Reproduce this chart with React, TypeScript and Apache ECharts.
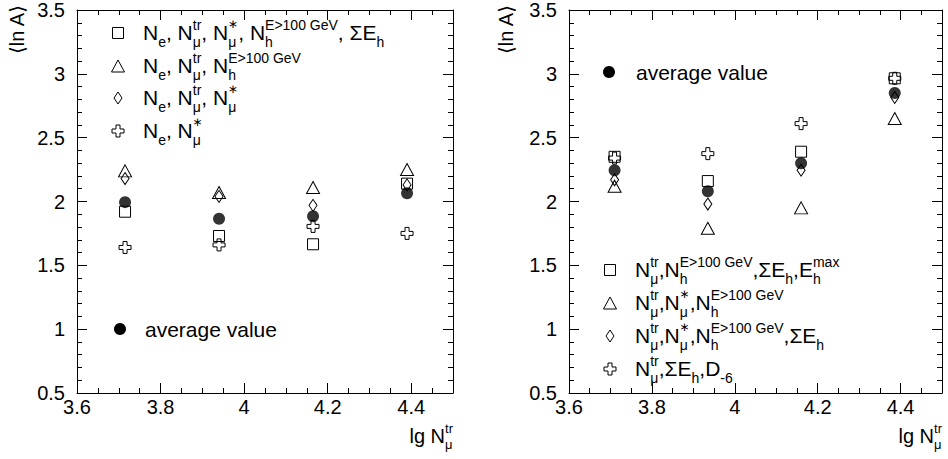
import React, { useEffect, useRef } from "react";
import * as echarts from "echarts";

// ---------- data ----------
const X_LEFT = [3.715, 3.94, 4.165, 4.39];
const X_RIGHT = [3.71, 3.935, 4.16, 4.386];

const L_SQUARE = [1.92, 1.73, 1.665, 2.14];
const L_TRIANGLE = [2.24, 2.07, 2.11, 2.25];
const L_DIAMOND = [2.18, 2.04, 1.97, 2.13];
const L_CROSS = [1.64, 1.66, 1.805, 1.75];
const L_AVG = [1.995, 1.865, 1.885, 2.065];

const R_SQUARE = [2.35, 2.16, 2.39, 2.965];
const R_TRIANGLE = [2.12, 1.79, 1.95, 2.65];
const R_DIAMOND = [2.17, 1.98, 2.245, 2.815];
const R_CROSS = [2.34, 2.375, 2.61, 2.965];
const R_AVG = [2.245, 2.08, 2.30, 2.85];

const X_MIN = 3.6;
const X_MAX = 4.5;
const Y_MIN = 0.5;
const Y_MAX = 3.5;

const LEFT_LEGEND = [
  "N_{e}, N_{μ}^{tr}, N_{μ}^{*}, N_{h}^{E>100 GeV}, ΣE_{h}",
  "N_{e}, N_{μ}^{tr}, N_{h}^{E>100 GeV}",
  "N_{e}, N_{μ}^{tr}, N_{μ}^{*}",
  "N_{e}, N_{μ}^{*}",
];
const RIGHT_LEGEND = [
  "N_{μ}^{tr},N_{h}^{E>100 GeV},ΣE_{h},E_{h}^{max}",
  "N_{μ}^{tr},N_{μ}^{*},N_{h}^{E>100 GeV}",
  "N_{μ}^{tr},N_{μ}^{*},N_{h}^{E>100 GeV},ΣE_{h}",
  "N_{μ}^{tr},ΣE_{h},D_{-6}",
];
const AVG_LABEL = "average value";
const X_TITLE = "lg N_{μ}^{tr}";
const Y_TITLE = "⟨ln A⟩";

// ---------- helpers ----------
const FONT = '"Liberation Sans", Arial, Helvetica, sans-serif';
const STAR_FONT = '"DejaVu Sans", sans-serif';
const CROSS_PATH = "path://M4,0H8V4H12V8H8V12H4V8H0V4H4Z";

let measureCtx: CanvasRenderingContext2D | null = null;
function measure(t: string, size: number, family: string = FONT): number {
  if (!measureCtx) measureCtx = document.createElement("canvas").getContext("2d");
  measureCtx!.font = `${size}px ${family}`;
  return measureCtx!.measureText(t).width;
}

type Piece = { kind: "base"; text: string } | { kind: "script"; sub?: string; sup?: string };

function parseTex(s: string): Piece[] {
  const out: Piece[] = [];
  let i = 0;
  let buf = "";
  const flush = () => {
    if (buf) {
      out.push({ kind: "base", text: buf });
      buf = "";
    }
  };
  const readArg = () => {
    if (s[i] === "{") {
      const j = s.indexOf("}", i);
      const a = s.slice(i + 1, j);
      i = j + 1;
      return a;
    }
    const c = s[i];
    i++;
    return c;
  };
  while (i < s.length) {
    const c = s[i];
    if (c === "_" || c === "^") {
      flush();
      i++;
      const arg = readArg();
      const last = out[out.length - 1] as any;
      let sc: any;
      if (last && last.kind === "script" && (c === "_" ? last.sub === undefined : last.sup === undefined)) sc = last;
      else {
        sc = { kind: "script" };
        out.push(sc);
      }
      if (c === "_") sc.sub = arg;
      else sc.sup = arg;
    } else {
      buf += c;
      i++;
    }
  }
  flush();
  return out;
}

function txtCenter(text: string, x: number, cy: number, size: number, family: string = FONT) {
  return {
    type: "text",
    x,
    y: cy,
    silent: true,
    style: {
      text,
      fontSize: size,
      fontFamily: family,
      fill: "#000",
      align: "left",
      verticalAlign: "middle",
      textAlign: "left",
      textVerticalAlign: "middle",
    },
  };
}

function txt(text: string, x: number, baseline: number, size: number) {
  return txtCenter(text, x, baseline - 0.35 * size, size);
}

function tex(s: string, x: number, baseline: number, F: number, align: "left" | "right" = "left") {
  const sz = Math.round(F * 0.67);
  const starSize = 12;
  const pieces = parseTex(s);
  const widths = pieces.map((p) => {
    if (p.kind === "base") return measure(p.text, F);
    const wSub = p.sub ? measure(p.sub, sz) : 0;
    const wSup = p.sup ? (p.sup === "*" ? measure("∗", starSize, STAR_FONT) : measure(p.sup, sz)) : 0;
    return Math.max(wSub, wSup);
  });
  const total = widths.reduce((a, b) => a + b, 0);
  let cx = align === "right" ? x - total : x;
  const els: any[] = [];
  const subBase = baseline + 0.32 * F;
  pieces.forEach((p, k) => {
    if (p.kind === "base") els.push(txt(p.text, cx, baseline, F));
    else {
      if (p.sub) els.push(txt(p.sub, cx, subBase, sz));
      if (p.sup) {
        if (p.sup === "*") els.push(txtCenter("∗", cx - 0.5, baseline - 0.74 * F, starSize, STAR_FONT));
        else els.push(txt(p.sup, cx, baseline - 0.5 * F, sz));
      }
    }
    cx += widths[k];
  });
  return els;
}

function marker(kind: string, cx: number, cy: number) {
  const st = { fill: "none", stroke: "#000", lineWidth: 1 };
  if (kind === "square")
    return { type: "rect", silent: true, shape: { x: cx - 5.5, y: cy - 5.5, width: 11, height: 11 }, style: st };
  if (kind === "triangle")
    return {
      type: "polygon",
      silent: true,
      shape: { points: [[cx, cy - 6], [cx + 6.5, cy + 6], [cx - 6.5, cy + 6]] },
      style: st,
    };
  if (kind === "diamond")
    return {
      type: "polygon",
      silent: true,
      shape: { points: [[cx, cy - 6], [cx + 4, cy], [cx, cy + 6], [cx - 4, cy]] },
      style: st,
    };
  if (kind === "cross") {
    const u = 4;
    const x0 = cx - 6;
    const y0 = cy - 6;
    const pts = [
      [1, 0], [2, 0], [2, 1], [3, 1], [3, 2], [2, 2], [2, 3], [1, 3], [1, 2], [0, 2], [0, 1], [1, 1],
    ].map(([a, b]) => [x0 + a * u, y0 + b * u]);
    return { type: "polygon", silent: true, shape: { points: pts }, style: st };
  }
  return { type: "circle", silent: true, shape: { cx, cy, r: 6 }, style: { fill: "#000" } };
}

const fmt = (v: number) => String(Math.round(v * 10) / 10);

function axesFor(g: number) {
  const line = { show: true, lineStyle: { color: "#000", width: 1 } };
  const xMajor = (pos: "bottom" | "top", labels: boolean) => ({
    type: "value",
    gridIndex: g,
    position: pos,
    min: X_MIN,
    max: X_MAX,
    interval: 0.2,
    axisLine: line,
    axisTick: { show: true, inside: true, length: 10, lineStyle: { color: "#000" } },
    splitLine: { show: false },
    axisLabel: labels
      ? {
          show: true,
          formatter: fmt,
          fontSize: 20,
          fontFamily: FONT,
          color: "#000",
          margin: 4,
          showMaxLabel: false,
        }
      : { show: false },
  });
  const xMinor = (pos: "bottom" | "top") => ({
    type: "value",
    gridIndex: g,
    position: pos,
    min: X_MIN,
    max: X_MAX,
    interval: 0.05,
    axisLine: { show: false },
    axisTick: { show: true, inside: true, length: 5, lineStyle: { color: "#000" } },
    splitLine: { show: false },
    axisLabel: { show: false },
  });
  const y = (pos: "left" | "right", labels: boolean) => ({
    type: "value",
    gridIndex: g,
    position: pos,
    min: Y_MIN,
    max: Y_MAX,
    interval: 0.5,
    axisLine: line,
    axisTick: { show: true, inside: true, length: 10, lineStyle: { color: "#000" } },
    minorTick: { show: true, splitNumber: 5, length: 5, lineStyle: { color: "#000" } },
    splitLine: { show: false },
    minorSplitLine: { show: false },
    axisLabel: labels
      ? { show: true, formatter: fmt, fontSize: 20, fontFamily: FONT, color: "#000", margin: 12 }
      : { show: false },
  });
  return {
    x: [xMajor("bottom", true), xMinor("bottom"), xMajor("top", false), xMinor("top")],
    y: [y("left", true), y("right", false)],
  };
}

function seriesFor(g: number, xs: number[], sets: { kind: string; vals: number[] }[]) {
  return sets.map((s) => {
    const base: any = {
      type: "scatter",
      xAxisIndex: g * 4,
      yAxisIndex: g * 2,
      data: xs.map((x, i) => [x, s.vals[i]]),
      silent: true,
      itemStyle: { color: "rgba(0,0,0,0)", borderColor: "#000", borderWidth: 1, opacity: 1 },
    };
    if (s.kind === "square") {
      base.symbol = "rect";
      base.symbolSize = 11;
    } else if (s.kind === "triangle") {
      base.symbol = "triangle";
      base.symbolSize = [13, 12];
    } else if (s.kind === "diamond") {
      base.symbol = "diamond";
      base.symbolSize = [8, 12];
    } else if (s.kind === "cross") {
      base.symbol = CROSS_PATH;
      base.symbolSize = 12;
    } else {
      base.symbol = "circle";
      base.symbolSize = 12;
      base.itemStyle = { color: "#000", borderWidth: 0 };
    }
    return base;
  });
}

export default function App() {
  const ref = useRef<HTMLDivElement>(null);
  useEffect(() => {
    if (!ref.current) return;
    const chart = echarts.init(ref.current, undefined, { renderer: "svg" });
    const a0 = axesFor(0);
    const a1 = axesFor(1);

    const LF = 21;
    const graphics: any[] = [];
    // left legend
    const kinds = ["square", "triangle", "diamond", "cross"];
    const leftRows = [33, 66, 98, 131];
    kinds.forEach((k, i) => {
      graphics.push(marker(k, 118, leftRows[i]));
      graphics.push(...tex(LEFT_LEGEND[i], 143, leftRows[i] + 0.33 * LF, LF));
    });
    graphics.push(marker("circle", 120, 329));
    graphics.push(...tex(AVG_LABEL, 145, 329 + 0.35 * LF, LF));
    // right legend
    const rightRows = [270, 303, 336, 369];
    kinds.forEach((k, i) => {
      graphics.push(marker(k, 610, rightRows[i]));
      graphics.push(...tex(RIGHT_LEGEND[i], 635, rightRows[i] + 0.33 * LF, LF));
    });
    graphics.push(marker("circle", 609, 72));
    graphics.push(...tex(AVG_LABEL, 636, 72 + 0.35 * LF, LF));
    // axis titles
    graphics.push(...tex(X_TITLE, 453, 443, 20, "right"));
    graphics.push(...tex(X_TITLE, 942, 443, 20, "right"));
    [17, 506].forEach((x) =>
      graphics.push({
        type: "text",
        x,
        y: 5,
        rotation: Math.PI / 2,
        silent: true,
        style: {
          text: Y_TITLE,
          fontSize: 20,
          fontFamily: '"Liberation Sans", "DejaVu Sans", sans-serif',
          fill: "#000",
          align: "right",
          verticalAlign: "middle",
          textAlign: "right",
          textVerticalAlign: "middle",
        },
      })
    );

    chart.setOption({
      animation: false,
      backgroundColor: "#fff",
      grid: [
        { left: 77, top: 7, width: 376, height: 386 },
        { left: 569, top: 7, width: 373, height: 386 },
      ],
      xAxis: [...a0.x, ...a1.x],
      yAxis: [...a0.y, ...a1.y],
      series: [
        ...seriesFor(0, X_LEFT, [
          { kind: "square", vals: L_SQUARE },
          { kind: "triangle", vals: L_TRIANGLE },
          { kind: "diamond", vals: L_DIAMOND },
          { kind: "cross", vals: L_CROSS },
          { kind: "circle", vals: L_AVG },
        ]),
        ...seriesFor(1, X_RIGHT, [
          { kind: "square", vals: R_SQUARE },
          { kind: "triangle", vals: R_TRIANGLE },
          { kind: "diamond", vals: R_DIAMOND },
          { kind: "cross", vals: R_CROSS },
          { kind: "circle", vals: R_AVG },
        ]),
      ],
      graphic: graphics,
    });
    return () => chart.dispose();
  }, []);
  return (
    <div
      ref={ref}
      style={{ position: "absolute", left: 0, top: 0, width: 948, height: 459, background: "#fff" }}
    />
  );
}
